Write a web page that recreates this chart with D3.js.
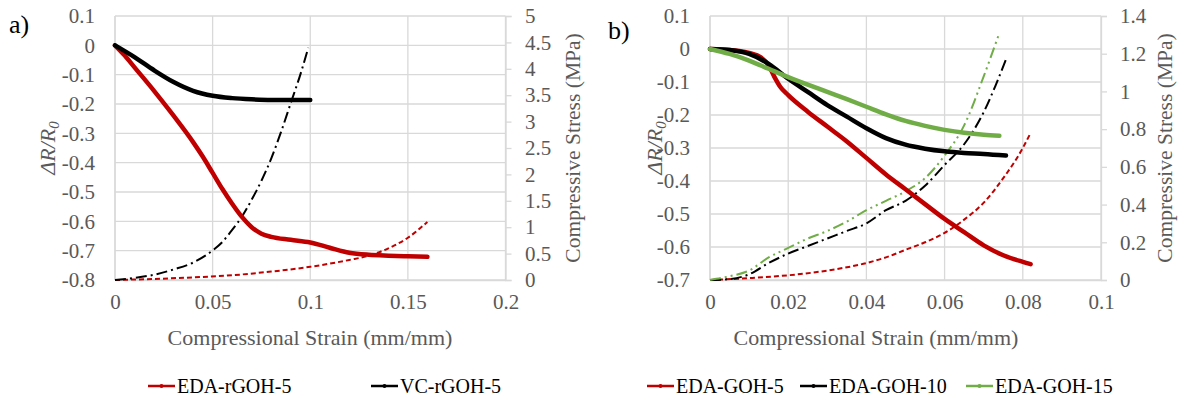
<!DOCTYPE html>
<html>
<head>
<meta charset="utf-8">
<script src="https://cdn.jsdelivr.net/npm/d3@7"></script>
<style>
  html, body { margin: 0; padding: 0; background: #fff; }
</style>
</head>
<body>
<svg id="chart" width="1178" height="399"></svg>
<script>
// ---- Panel a: strain (mm/mm) vs ΔR/R0 (solid) and compressive stress (broken) ----
const aStrainTicks = [0, 0.05, 0.1, 0.15, 0.2];
const aResTicks = [0.1, 0, -0.1, -0.2, -0.3, -0.4, -0.5, -0.6, -0.7, -0.8];
const aStressTicks = [0, 0.5, 1, 1.5, 2, 2.5, 3, 3.5, 4, 4.5, 5];

const edaRgohRes = [[0,0],[0.005,-0.035],[0.01,-0.075],[0.02,-0.155],[0.03,-0.24],[0.04,-0.33],[0.045,-0.38],
  [0.05,-0.435],[0.055,-0.49],[0.06,-0.54],[0.065,-0.585],[0.07,-0.62],[0.075,-0.642],[0.08,-0.653],[0.09,-0.663],
  [0.1,-0.672],[0.11,-0.69],[0.12,-0.707],[0.13,-0.714],[0.14,-0.717],[0.15,-0.719],[0.16,-0.721]];
const vcRgohRes = [[0,0],[0.01,-0.04],[0.02,-0.085],[0.03,-0.125],[0.04,-0.155],[0.05,-0.172],[0.06,-0.18],
  [0.07,-0.184],[0.08,-0.186],[0.1,-0.186]];
const edaRgohStress = [[0,0],[0.02,0.02],[0.04,0.05],[0.06,0.09],[0.08,0.16],[0.1,0.25],[0.11,0.31],
  [0.12,0.38],[0.13,0.46],[0.14,0.6],[0.15,0.8],[0.16,1.1]];
const vcRgohStress = [[0,0],[0.01,0.04],[0.02,0.1],[0.03,0.2],[0.04,0.33],[0.05,0.56],[0.055,0.72],[0.06,0.95],
  [0.065,1.2],[0.07,1.52],[0.075,1.88],[0.08,2.3],[0.085,2.8],[0.09,3.35],[0.095,3.9],[0.099,4.4]];

// ---- Panel b ----
const bStrainTicks = [0, 0.02, 0.04, 0.06, 0.08, 0.1];
const bResTicks = [0.1, 0, -0.1, -0.2, -0.3, -0.4, -0.5, -0.6, -0.7];
const bStressTicks = [0, 0.2, 0.4, 0.6, 0.8, 1, 1.2, 1.4];

const goh5Res = [[0,0],[0.005,-0.003],[0.01,-0.012],[0.013,-0.025],[0.015,-0.05],[0.0165,-0.085],[0.018,-0.115],
  [0.02,-0.14],[0.025,-0.19],[0.03,-0.235],[0.035,-0.28],[0.04,-0.33],[0.045,-0.38],[0.05,-0.425],[0.055,-0.47],
  [0.06,-0.515],[0.065,-0.555],[0.07,-0.595],[0.075,-0.625],[0.08,-0.645],[0.082,-0.652]];
const goh10Res = [[0,0],[0.005,-0.003],[0.01,-0.015],[0.015,-0.045],[0.02,-0.09],[0.025,-0.13],[0.03,-0.17],
  [0.035,-0.205],[0.04,-0.24],[0.045,-0.27],[0.05,-0.29],[0.055,-0.302],[0.06,-0.31],[0.065,-0.315],
  [0.07,-0.318],[0.0757,-0.323]];
const goh15Res = [[0,0],[0.005,-0.015],[0.01,-0.035],[0.015,-0.06],[0.02,-0.085],[0.025,-0.108],[0.03,-0.13],
  [0.035,-0.152],[0.04,-0.175],[0.045,-0.198],[0.05,-0.218],[0.055,-0.233],[0.06,-0.245],[0.065,-0.254],
  [0.07,-0.26],[0.074,-0.263]];
const goh5Stress = [[0,0],[0.01,0.01],[0.02,0.025],[0.03,0.05],[0.04,0.09],[0.045,0.12],[0.05,0.16],[0.055,0.2],
  [0.06,0.25],[0.065,0.32],[0.07,0.41],[0.075,0.54],[0.08,0.7],[0.082,0.78]];
const goh10Stress = [[0,0],[0.005,0.005],[0.01,0.03],[0.015,0.09],[0.02,0.14],[0.025,0.18],[0.03,0.22],
  [0.035,0.26],[0.04,0.3],[0.045,0.37],[0.05,0.42],[0.055,0.5],[0.06,0.61],[0.065,0.72],[0.07,0.89],
  [0.073,1.03],[0.0757,1.17]];
const goh15Stress = [[0,0],[0.005,0.02],[0.01,0.05],[0.015,0.12],[0.02,0.17],[0.025,0.22],[0.03,0.26],
  [0.035,0.31],[0.04,0.37],[0.045,0.42],[0.05,0.47],[0.055,0.54],[0.06,0.66],[0.065,0.82],[0.07,1.08],
  [0.074,1.31]];

const legendA = ["EDA-rGOH-5", "VC-rGOH-5"];
const legendB = ["EDA-GOH-5", "EDA-GOH-10", "EDA-GOH-15"];

const RED = "#c00000", BLACK = "#000000", GREEN = "#70ad47";
const GRID = "#d9d9d9", TEXT = "#595959";
const SERIF = "Liberation Serif";

const svg = d3.select("#chart");

function drawPanel(cfg) {
  const g = svg.append("g");
  const x = d3.scaleLinear().domain(cfg.xDomain).range([cfg.left, cfg.right]);
  const yL = d3.scaleLinear().domain(cfg.yDomain).range([cfg.bottom, cfg.top]);
  const yR = d3.scaleLinear().domain(cfg.y2Domain).range([cfg.bottom, cfg.top]);

  // horizontal gridlines
  g.append("g").selectAll("line").data(cfg.yTicks).join("line")
    .attr("x1", cfg.left).attr("x2", cfg.right)
    .attr("y1", d => yL(d)).attr("y2", d => yL(d))
    .attr("stroke", GRID).attr("stroke-width", 1.3);
  // vertical gridlines
  g.append("g").selectAll("line").data(cfg.xTicks).join("line")
    .attr("x1", d => x(d)).attr("x2", d => x(d))
    .attr("y1", cfg.top).attr("y2", cfg.bottom)
    .attr("stroke", GRID).attr("stroke-width", 1.3);

  const styleText = sel => sel.attr("fill", TEXT).attr("font-size", 21).attr("font-family", SERIF);

  // left axis labels
  const axL = d3.axisLeft(yL).tickValues(cfg.yTicks).tickSize(0).tickPadding(cfg.left - cfg.yLabelRight)
    .tickFormat(d => String(+d.toFixed(2)));
  const gL = g.append("g").attr("transform", `translate(${cfg.left},0)`).call(axL);
  gL.attr("font-family", SERIF);
  gL.select(".domain").remove();
  styleText(gL.selectAll("text"));

  // bottom axis labels
  const axB = d3.axisBottom(x).tickValues(cfg.xTicks).tickSize(0).tickPadding(14)
    .tickFormat(d => String(+d.toFixed(3)));
  const gB = g.append("g").attr("transform", `translate(0,${cfg.bottom})`).call(axB);
  gB.attr("font-family", SERIF);
  gB.select(".domain").attr("stroke", GRID).attr("stroke-width", 1.3);
  styleText(gB.selectAll("text"));

  // right axis with short outward ticks
  const axR = d3.axisRight(yR).tickValues(cfg.y2Ticks).tickSize(6).tickPadding(cfg.y2LabelLeft - cfg.right - 6)
    .tickFormat(d => String(+d.toFixed(2)));
  const gR = g.append("g").attr("transform", `translate(${cfg.right},0)`).call(axR);
  gR.attr("font-family", SERIF);
  gR.select(".domain").attr("stroke", GRID).attr("stroke-width", 1.3);
  gR.selectAll(".tick line").attr("stroke", GRID).attr("stroke-width", 1.3);
  styleText(gR.selectAll("text"));

  // left axis line
  g.append("line").attr("x1", cfg.left).attr("x2", cfg.left).attr("y1", cfg.top).attr("y2", cfg.bottom)
    .attr("stroke", GRID).attr("stroke-width", 1.3);

  const lineL = d3.line().x(d => x(d[0])).y(d => yL(d[1])).curve(d3.curveMonotoneX);
  const lineR = d3.line().x(d => x(d[0])).y(d => yR(d[1])).curve(d3.curveMonotoneX);

  const marks = g.append("g");
  cfg.stress.forEach(s => {
    marks.append("path").datum(s.data).attr("d", lineR)
      .attr("fill", "none").attr("stroke", s.color).attr("stroke-width", s.width || 2)
      .attr("stroke-dasharray", s.dash).attr("stroke-linecap", "butt");
  });
  cfg.res.forEach(s => {
    marks.append("path").datum(s.data).attr("d", lineL)
      .attr("fill", "none").attr("stroke", s.color).attr("stroke-width", 4.5)
      .attr("stroke-linecap", "round").attr("stroke-linejoin", "round");
  });

  // y title (left)
  const tl = g.append("text")
    .attr("transform", `translate(${cfg.yTitleX},${(cfg.top + cfg.bottom) / 2}) rotate(-90)`)
    .attr("text-anchor", "middle").attr("fill", TEXT).attr("font-size", 22)
    .attr("font-style", "italic").attr("font-family", SERIF);
  tl.append("tspan").text("ΔR/R");
  tl.append("tspan").attr("font-size", 15).attr("dy", 4).text("0");

  // y title (right)
  g.append("text")
    .attr("transform", `translate(${cfg.y2TitleX},${(cfg.top + cfg.bottom) / 2}) rotate(-90)`)
    .attr("text-anchor", "middle").attr("fill", TEXT).attr("font-size", 21.5)
    .attr("font-family", SERIF)
    .text("Compressive Stress (MPa)");

  // x title
  g.append("text").attr("x", cfg.xTitleX).attr("y", 345)
    .attr("text-anchor", "middle").attr("fill", TEXT).attr("font-size", 22)
    .attr("font-family", SERIF)
    .text("Compressional Strain (mm/mm)");

  // panel letter
  g.append("text").attr("x", cfg.letterX).attr("y", cfg.letterY)
    .attr("fill", "#000").attr("font-size", 26).attr("font-family", SERIF)
    .text(cfg.letter);

  // legend
  const lg = g.append("g").selectAll("g").data(cfg.legend).join("g")
    .attr("transform", d => `translate(${d.x},386)`);
  lg.append("line").attr("x1", 0).attr("x2", 27).attr("y1", 0).attr("y2", 0)
    .attr("stroke", d => d.color).attr("stroke-width", 2.5);
  lg.append("circle").attr("cx", 13.5).attr("cy", 0).attr("r", 2).attr("fill", d => d.color);
  lg.append("text").attr("x", 29).attr("y", 7).attr("fill", "#000").attr("font-size", 20)
    .attr("font-family", SERIF).text(d => d.name);
}

drawPanel({
  xDomain: [0, 0.2], yDomain: [-0.8, 0.1], y2Domain: [0, 5],
  left: 115, right: 505.5, top: 16, bottom: 280,
  xTicks: aStrainTicks, yTicks: aResTicks, y2Ticks: aStressTicks,
  yLabelRight: 95, y2LabelLeft: 525,
  yTitleX: 55, y2TitleX: 580, xTitleX: 310,
  letter: "a)", letterX: 9, letterY: 33,
  res: [{ data: edaRgohRes, color: RED }, { data: vcRgohRes, color: BLACK }],
  stress: [
    { data: edaRgohStress, color: RED, dash: "5,3", width: 2 },
    { data: vcRgohStress, color: BLACK, dash: "11,4,2,4", width: 2 }
  ],
  legend: [{ name: legendA[0], color: RED, x: 148 }, { name: legendA[1], color: BLACK, x: 371 }]
});

drawPanel({
  xDomain: [0, 0.1], yDomain: [-0.7, 0.1], y2Domain: [0, 1.4],
  left: 710, right: 1101, top: 16, bottom: 280,
  xTicks: bStrainTicks, yTicks: bResTicks, y2Ticks: bStressTicks,
  yLabelRight: 690, y2LabelLeft: 1120,
  yTitleX: 662, y2TitleX: 1172, xTitleX: 876,
  letter: "b)", letterX: 608, letterY: 39,
  res: [{ data: goh5Res, color: RED }, { data: goh10Res, color: BLACK }, { data: goh15Res, color: GREEN }],
  stress: [
    { data: goh5Stress, color: RED, dash: "5,3", width: 2 },
    { data: goh10Stress, color: BLACK, dash: "11,4,2,4", width: 2 },
    { data: goh15Stress, color: GREEN, dash: "11,4,2,4,2,4", width: 2 }
  ],
  legend: [{ name: legendB[0], color: RED, x: 647 }, { name: legendB[1], color: BLACK, x: 800 },
           { name: legendB[2], color: GREEN, x: 966 }]
});
</script>
</body>
</html>
